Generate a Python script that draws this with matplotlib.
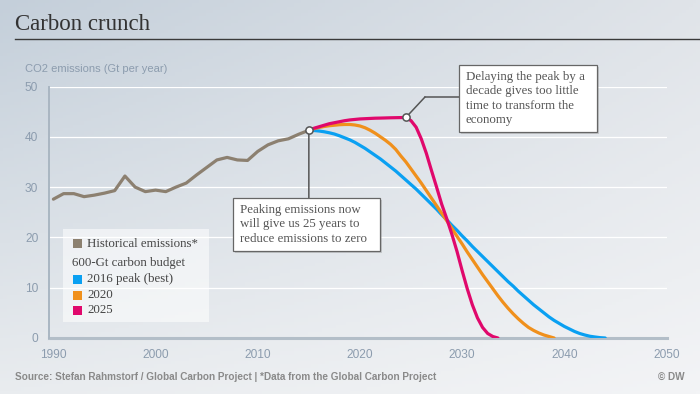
import numpy as np
import matplotlib
matplotlib.use("Agg")
import matplotlib.pyplot as plt
from matplotlib.patches import Rectangle
from matplotlib.lines import Line2D

# MARK: Data

hist_years = list(range(1990, 2016))
hist_values = [27.6, 28.7, 28.7, 28.1, 28.4, 28.8, 29.3, 32.2, 30.0, 29.1,
               29.4, 29.1, 30.0, 30.8, 32.4, 33.9, 35.4, 35.9, 35.4, 35.3,
               37.1, 38.4, 39.2, 39.6, 40.5, 41.3]

# scenario values, read every half year from 2015
blue_values = [41.3, 41.25, 41.15, 41.0, 40.8, 40.55, 40.2, 39.8, 39.4, 38.9,
               38.3, 37.7, 37.0, 36.3, 35.6, 34.8, 34.0, 33.2, 32.3, 31.4,
               30.5, 29.6, 28.6, 27.6, 26.6, 25.6, 24.5, 23.5, 22.4, 21.4,
               20.3, 19.3, 18.2, 17.2, 16.2, 15.2, 14.2, 13.2, 12.2, 11.2,
               10.3, 9.3, 8.4, 7.5, 6.6, 5.8, 5.0, 4.2, 3.5, 2.9,
               2.3, 1.8, 1.3, 0.9, 0.6, 0.35, 0.2, 0.07, 0.0]
orange_values = [41.3, 41.6, 41.85, 42.05, 42.2, 42.3, 42.4, 42.45, 42.45, 42.35,
                 42.15, 41.8, 41.3, 40.7, 40.0, 39.3, 38.5, 37.5, 36.2, 35.0,
                 33.6, 32.2, 30.8, 29.3, 27.8, 26.3, 24.8, 23.3, 21.8, 20.2,
                 18.7, 17.1, 15.6, 14.1, 12.6, 11.2, 9.8, 8.4, 7.1, 5.9,
                 4.8, 3.8, 2.9, 2.1, 1.5, 1.0, 0.6, 0.3, 0.0]
magenta_values = [41.3, 41.7, 42.0, 42.3, 42.6, 42.8, 43.0, 43.2, 43.35, 43.45,
                  43.55, 43.6, 43.65, 43.7, 43.72, 43.75, 43.78, 43.8, 43.82, 43.85,
                  43.2, 41.9, 39.6, 36.7, 33.3, 30.0, 26.6, 23.7, 20.6, 17.2,
                  13.4, 9.8, 6.6, 4.0, 2.1, 0.9, 0.3, 0.0]
scenario_start = 2015

x_ticks = [1990, 2000, 2010, 2020, 2030, 2040, 2050]
y_ticks = [0, 10, 20, 30, 40, 50]

legend_hist = "Historical emissions*"
legend_budget = "600-Gt carbon budget"
legend_labels = ["2016 peak (best)", "2020", "2025"]

note_now = ["Peaking emissions now", "will give us 25 years to",
            "reduce emissions to zero"]
note_delay = ["Delaying the peak by a", "decade gives too little",
              "time to transform the", "economy"]

# MARK: Style

W, H = 700, 394
C_HIST = "#8c8070"
C_BLUE = "#0aa0f2"
C_ORANGE = "#f0901c"
C_MAGENTA = "#e0086c"
C_TICK = "#8c9cae"
SERIF = ["Liberation Serif", "DejaVu Serif"]
SANS = ["Liberation Sans", "DejaVu Sans"]


def fx(x):
    return x / W


def fy(y):
    return 1 - y / H


def box(fig, x0, y0, x1, y1, lines, top, step):
    # shadow + white box, text lines drawn inside
    fig.patches.append(Rectangle((fx(x0 + 2), fy(y1 + 2)), fx(x1 - x0), (y1 - y0) / H,
                                 transform=fig.transFigure, facecolor="#888888",
                                 alpha=0.35, edgecolor="none", zorder=5))
    fig.patches.append(Rectangle((fx(x0), fy(y1)), fx(x1 - x0), (y1 - y0) / H,
                                 transform=fig.transFigure, facecolor="white",
                                 edgecolor="#666666", linewidth=0.9, zorder=6))
    for i, line in enumerate(lines):
        fig.text(fx(x0 + 7), fy(top + i * step), line, family=SERIF, fontsize=9.3,
                 color="#555555", va="center", ha="left", zorder=7)


def half_years(values):
    return [scenario_start + 0.5 * i for i in range(len(values))]


# MARK: Chart

fig = plt.figure(figsize=(W / 100, H / 100), dpi=100)

# background gradient
bg = fig.add_axes([0, 0, 1, 1], zorder=-10)
gx, gy = np.meshgrid(np.linspace(0, 1, 200), np.linspace(0, 1, 120))
tl = np.array([196, 207, 218]) / 255
tr = np.array([224, 228, 233]) / 255
bl = np.array([233, 236, 239]) / 255
br = np.array([243, 244, 246]) / 255
img = ((1 - gx)[..., None] * (1 - gy)[..., None] * tl + gx[..., None] * (1 - gy)[..., None] * tr
       + (1 - gx)[..., None] * gy[..., None] * bl + gx[..., None] * gy[..., None] * br)
bg.imshow(img, aspect="auto", extent=[0, 1, 0, 1], origin="upper")
bg.axis("off")

ax = fig.add_axes([fx(49.3), fy(338), fx(617.2), (338 - 86.5) / H])
ax.set_facecolor("none")
ax.set_xlim(1989.6, 2050)
ax.set_ylim(0, 50)

ax.plot(half_years(blue_values), blue_values, color=C_BLUE, lw=2.3,
        solid_capstyle="round", solid_joinstyle="round", zorder=3)
ax.plot(half_years(orange_values), orange_values, color=C_ORANGE, lw=2.3,
        solid_capstyle="round", solid_joinstyle="round", zorder=4)
ax.plot(half_years(magenta_values), magenta_values, color=C_MAGENTA, lw=2.3,
        solid_capstyle="round", solid_joinstyle="round", zorder=5)
ax.plot(hist_years, hist_values, color=C_HIST, lw=2.3, solid_capstyle="round",
        solid_joinstyle="round", zorder=6)

peak_i = int(np.argmax(magenta_values))
peak_x = half_years(magenta_values)[peak_i]
peak_y = magenta_values[peak_i]

# connectors
ax.annotate("", xy=(hist_years[-1], hist_values[-1]), xycoords="data",
            xytext=(hist_years[-1], fy(198)), textcoords=("data", "figure fraction"),
            arrowprops=dict(arrowstyle="-", color="#555555", lw=1.1,
                            shrinkA=0, shrinkB=0), zorder=7)
ax.annotate("", xy=(peak_x, peak_y), xycoords="data",
            xytext=(fx(425), fy(97)), textcoords="figure fraction",
            arrowprops=dict(arrowstyle="-", color="#555555", lw=1.1,
                            shrinkA=0, shrinkB=0), zorder=7)
fig.lines.append(Line2D([fx(425), fx(459)], [fy(97), fy(97)], transform=fig.transFigure,
                        color="#555555", lw=1.1))

ax.plot([hist_years[-1], peak_x], [hist_values[-1], peak_y], ls="none", marker="o",
        markersize=5.2, markerfacecolor="white", markeredgecolor="#555555",
        markeredgewidth=1.1, zorder=8)

# axes styling
ax.set_xticks(x_ticks)
ax.set_yticks(y_ticks)
ax.tick_params(length=0, colors=C_TICK, labelsize=8.6)
ax.tick_params(axis="y", pad=8)
ax.tick_params(axis="x", pad=8)
for lab in ax.get_xticklabels() + ax.get_yticklabels():
    lab.set_family(SANS)
ax.grid(axis="y", color="white", lw=0.9)
ax.set_axisbelow(True)
for side in ["top", "right"]:
    ax.spines[side].set_visible(False)
ax.spines["left"].set_color("#a9b6c2")
ax.spines["left"].set_linewidth(1.4)
ax.spines["bottom"].set_color("#b3bec8")
ax.spines["bottom"].set_linewidth(2.2)
ax.spines["bottom"].set_zorder(2)

# title and labels
fig.text(fx(15), fy(30), "Carbon crunch", family=SERIF, fontsize=16.5,
         color="#333333", va="baseline")
fig.lines.append(Line2D([fx(15), 1], [fy(39.3), fy(39.3)], transform=fig.transFigure,
                        color="#3a3a3a", lw=1.0))
fig.text(fx(25), fy(69), "CO2 emissions (Gt per year)", family=SANS, fontsize=8,
         color=C_TICK, va="center")
fig.text(fx(15), fy(377), "Source: Stefan Rahmstorf / Global Carbon Project | "
         "*Data from the Global Carbon Project", family=SANS, fontsize=7.2,
         weight="bold", color="#8a8a8a", va="center")
fig.text(fx(685), fy(377), "© DW", family=SANS, fontsize=7.2, weight="bold",
         color="#8a8a8a", va="center", ha="right")

# legend
fig.patches.append(Rectangle((fx(63), fy(322)), fx(146), 93 / H, transform=fig.transFigure,
                             facecolor="white", alpha=0.55, edgecolor="none", zorder=5))
legend_rows = [(C_HIST, legend_hist, 243.5), (None, legend_budget, 263)]
legend_rows += list(zip([C_BLUE, C_ORANGE, C_MAGENTA], legend_labels, [279, 295, 310]))
for color, label, yc in legend_rows:
    if color is None:
        fig.text(fx(72), fy(yc), label, family=SERIF, fontsize=9.3, color="#444444",
                 va="center", zorder=6)
        continue
    fig.patches.append(Rectangle((fx(72.7), fy(yc + 4.5)), fx(9), 9 / H,
                                 transform=fig.transFigure, facecolor=color,
                                 edgecolor="none", zorder=6))
    fig.text(fx(87), fy(yc), label, family=SERIF, fontsize=9.3, color="#444444",
             va="center", zorder=6)

# notes
box(fig, 233, 198, 380, 251, note_now, 210, 14.5)
box(fig, 459, 65, 597, 132, note_delay, 76.7, 14.5)

fig.savefig("out.png", dpi=100)
